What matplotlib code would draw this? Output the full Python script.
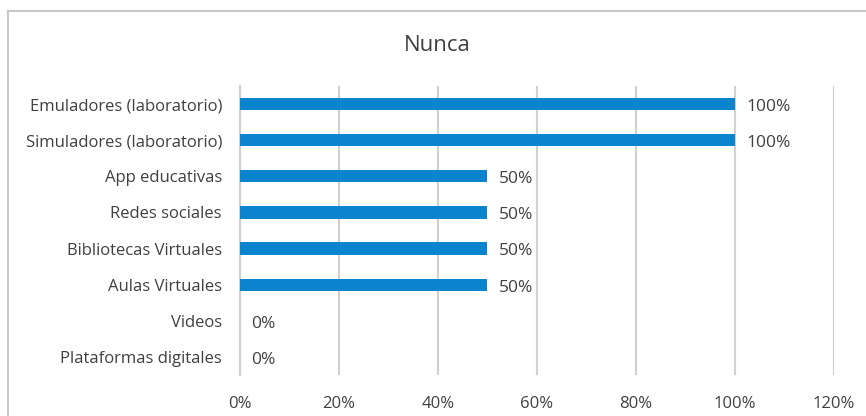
import matplotlib.pyplot as plt
from matplotlib.patches import Rectangle
from matplotlib.ticker import FuncFormatter

plt.rcParams['font.family'] = ['Open Sans', 'DejaVu Sans']

categories = [
    "Emuladores (laboratorio)",
    "Simuladores (laboratorio)",
    "App educativas",
    "Redes sociales",
    "Bibliotecas Virtuales",
    "Aulas Virtuales",
    "Videos",
    "Plataformas digitales",
]
values = [100, 100, 50, 50, 50, 50, 0, 0]
ticks = [0, 20, 40, 60, 80, 100, 120]

text_color = "#404040"
bar_color = "#0a84cc"

fig = plt.figure(figsize=(8.66, 4.16), dpi=100)
ax = fig.add_axes([0.2771, 0.0986, 0.6859, 0.6947])

y = list(range(len(categories)))
ax.barh(y, values, height=0.34, color=bar_color, zorder=3)
ax.set_yticks(y)
ax.set_yticklabels(categories)
ax.set_ylim(len(categories) - 0.5, -0.5)

ax.set_xlim(0, 120)
ax.set_xticks(ticks)
ax.xaxis.set_major_formatter(FuncFormatter(lambda v, p: f"{v:.0f}%"))
ax.grid(axis="x", color="#d0d0d0", linewidth=1.5, zorder=0)
ax.grid(axis="y", visible=False)

for s in ["top", "right", "bottom"]:
    ax.spines[s].set_visible(False)
ax.spines["left"].set_color("#d0d0d0")
ax.spines["left"].set_linewidth(1.5)

ax.tick_params(axis="both", length=0, labelsize=12, colors=text_color)
ax.tick_params(axis="y", pad=13)
ax.tick_params(axis="x", pad=15)

for yi, v in zip(y, values):
    ax.text(v + 2.3, yi + 0.08, f"{v}%", va="center", ha="left",
            fontsize=12.5, color=text_color)

fig.text(0.505, 0.89, "Nunca", ha="center", va="center",
         fontsize=16, color=text_color)

# outer chart frame (clipped by the image edges on the right and bottom)
fig.patches.append(Rectangle((8 / 866, -0.05), 1.1, 1 - 10.5 / 416 + 0.05,
                             transform=fig.transFigure, fill=False,
                             edgecolor="#c8c8c8", linewidth=1.5))

fig.savefig("out.png", dpi=100)
